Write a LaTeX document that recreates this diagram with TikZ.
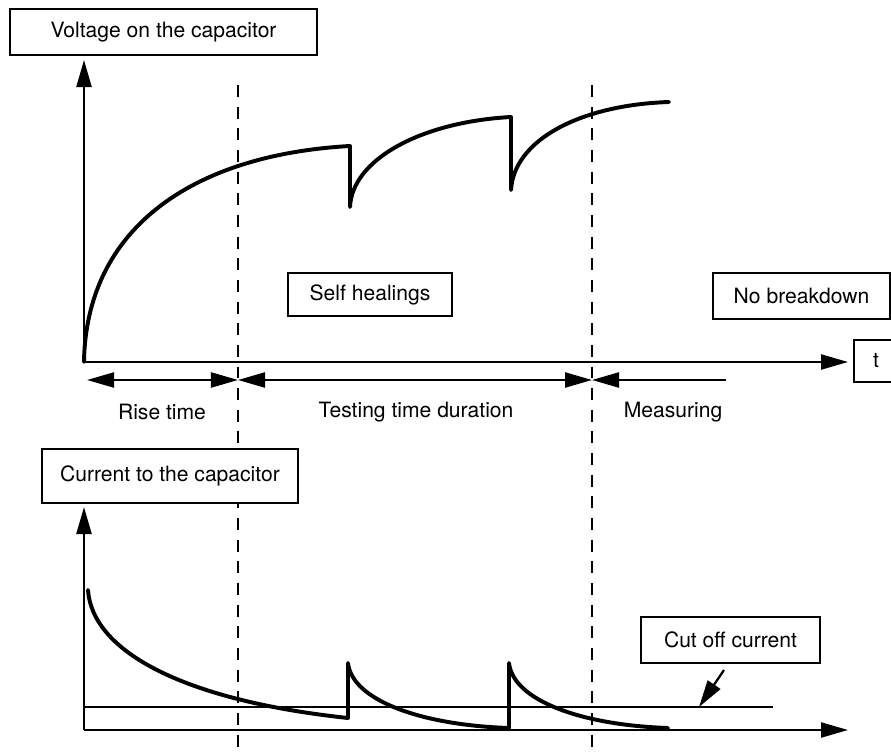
\documentclass[tikz,border=0pt]{standalone}
\usepackage{fontspec}
\setmainfont{TeX Gyre Heros}
\usetikzlibrary{arrows.meta}

\tikzset{
  tip/.tip={Triangle[length=0.675cm,width=0.375cm]},
  lbox/.style={draw, fill=white, line width=1.5pt, inner sep=0pt, font=\fontsize{15}{18}\selectfont},
  lbl/.style={inner sep=0pt, font=\fontsize{15}{18}\selectfont},
  axisline/.style={line width=1.6pt, -tip},
  spanarrow/.style={line width=1.6pt, tip-tip},
  wave/.style={line width=2.8pt, line join=round, line cap=round},
  divider/.style={line width=1.8pt, dash pattern=on 8.5pt off 6.9pt},
}

\begin{document}
\begin{tikzpicture}[x=0.025cm,y=-0.025cm]
\useasboundingbox (0,0) rectangle (891,753);

% Phase boundaries
\foreach \x in {238,592} {
  \draw[divider] (\x,85) -- (\x,753);
}

% Upper plot: voltage
\coordinate (vo) at (84,362);
\coordinate (vy) at (84,60);
\coordinate (vx) at (848,362);
\node[lbox, minimum width=7.675cm, minimum height=1.15cm] (vbox) at (163.5,32) {Voltage on the capacitor};
\node[lbox, minimum width=1.1cm, minimum height=1.05cm] (tbox) at (876,361) {t};
\draw[axisline] (vo) -- (vy);
\draw[axisline] (vo) -- (vx);

\draw[wave] (vo) .. controls (86,230) and (190,155) .. (350,146) -- (350,207)
  .. controls (352,160) and (420,122) .. (511,117) -- (511,190)
  .. controls (514,140) and (580,105) .. (669,102);

\node[lbox, minimum width=4.1cm, minimum height=1.075cm] (heal) at (370,294.5) {Self healings};
\node[lbox, minimum width=4.425cm, minimum height=1.15cm] (nobreak) at (801.5,296) {No breakdown};

% Time spans
\coordinate (r0) at (87,380);
\coordinate (r1) at (238,380);
\coordinate (r2) at (592,380);
\coordinate (r3) at (726,380);
\draw[spanarrow] (r0) -- (r1);
\draw[spanarrow] (r1) -- (r2);
\draw[axisline] (r3) -- (r2);
\node[lbl] (rise) at (162,412) {Rise time};
\node[lbl] (test) at (416,412) {Testing time duration};
\node[lbl] (meas) at (673,412) {Measuring};

% Lower plot: current
\coordinate (co) at (84,730);
\coordinate (cy) at (84,507);
\coordinate (cx) at (848,730);
\node[lbox, minimum width=6.4cm, minimum height=1.35cm] (cbox) at (170,476) {Current to the capacitor};
\draw[axisline] (co) -- (cy);
\draw[axisline] (co) -- (cx);

\coordinate (c0) at (84,707);
\coordinate (c1) at (773,707);
\draw[line width=1.6pt] (c0) -- (c1);

\draw[wave] (88,590) .. controls (92,650) and (180,700) .. (348,718) -- (348,663)
  .. controls (352,700) and (420,725) .. (509,728) -- (509,663)
  .. controls (513,700) and (580,725) .. (668,728);

\node[lbox, minimum width=4.475cm, minimum height=1.15cm] (cut) at (730.5,640) {Cut off current};
\coordinate (cutfrom) at (724,670);
\coordinate (cutto) at (699,707);
\draw[axisline] (cutfrom) -- (cutto);

\end{tikzpicture}
\end{document}
